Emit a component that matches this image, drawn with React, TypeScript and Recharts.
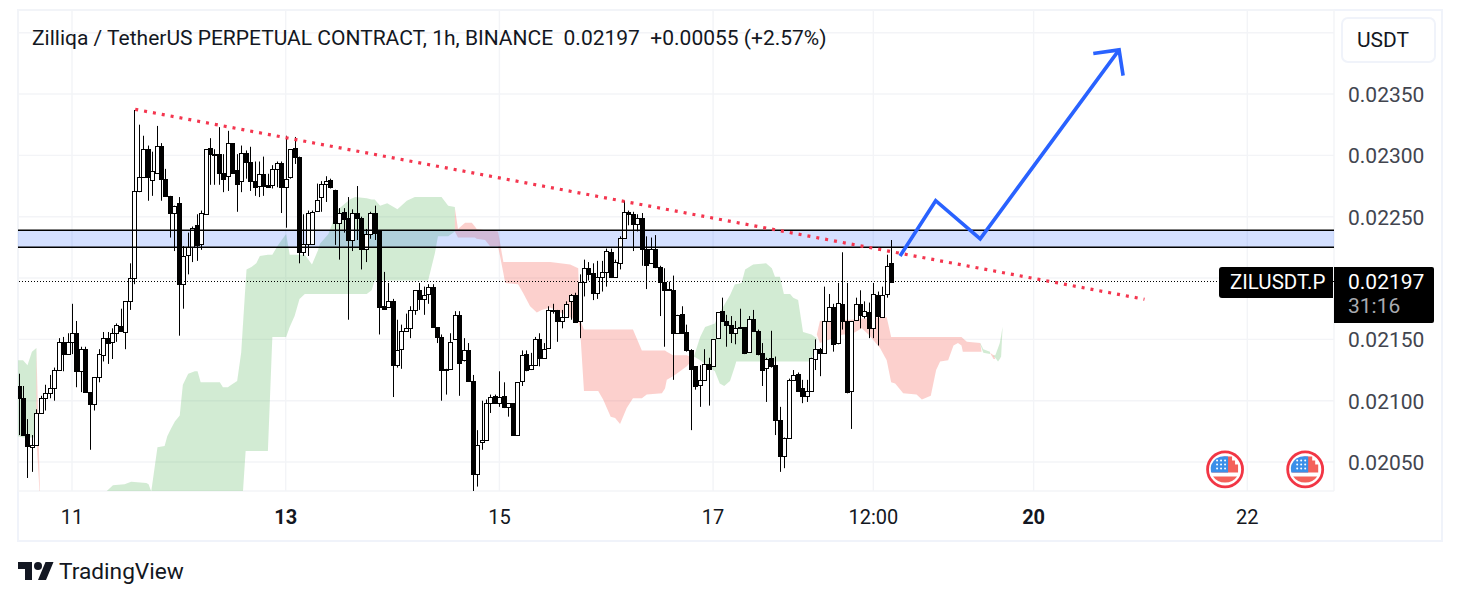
import { Area, Bar, CartesianGrid, ComposedChart, Line, ReferenceArea, ReferenceDot, ReferenceLine, XAxis, YAxis } from 'recharts';

// prices are stored in 1/100000 (the tick size of the pair), hours count from the 11th 00:00
const firstHour = -12;

const opens = [
  2112, 2102, 2073, 2062, 2064, 2090, 2102, 2106, 2110, 2125, 2148, 2138, 2148, 2155, 2124, 2142, 2107, 2097, 2119, 2137,
  2151, 2148, 2155, 2161, 2156, 2181, 2200, 2271, 2282, 2305, 2280, 2286, 2308, 2281, 2267, 2253, 2261, 2195, 2219, 2225,
  2243, 2228, 2252, 2306, 2301, 2301, 2286, 2283, 2310, 2288, 2279, 2302, 2295, 2279, 2275, 2285, 2276, 2276, 2289, 2294,
  2274, 2282, 2306, 2299, 2221, 2228, 2228, 2255, 2266, 2277, 2280, 2272, 2245, 2254, 2249, 2231, 2253, 2249, 2224, 2236,
  2253, 2239, 2177, 2176, 2181, 2129, 2142, 2157, 2159, 2174, 2190, 2183, 2187, 2193, 2160, 2152, 2126, 2126, 2150, 2170,
  2133, 2141, 2116, 2040, 2066, 2068, 2098, 2104, 2098, 2104, 2095, 2098, 2072, 2116, 2138, 2126, 2129, 2150, 2135, 2143,
  2174, 2174, 2165, 2168, 2181, 2186, 2165, 2197, 2208, 2204, 2188, 2201, 2205, 2221, 2201, 2212, 2233, 2254, 2252, 2244,
  2249, 2224, 2212, 2224, 2209, 2197, 2190, 2190, 2155, 2171, 2156, 2141, 2128, 2113, 2117, 2130, 2128, 2151, 2173, 2165,
  2162, 2155, 2160, 2160, 2140, 2167, 2157, 2139, 2127, 2135, 2129, 2084, 2055, 2070, 2117, 2122, 2110, 2104, 2108, 2134,
  2142, 2139, 2165, 2176, 2147, 2179, 2165, 2108, 2166, 2179, 2169, 2172, 2159, 2186, 2168, 2187, 2212,
];
const highs = [
  2122, 2112, 2085, 2072, 2093, 2104, 2113, 2121, 2127, 2151, 2152, 2155, 2179, 2165, 2144, 2144, 2107, 2119, 2142, 2156,
  2156, 2159, 2163, 2175, 2181, 2212, 2337, 2325, 2316, 2308, 2303, 2324, 2310, 2289, 2267, 2259, 2266, 2226, 2237, 2242,
  2252, 2255, 2305, 2314, 2305, 2323, 2301, 2320, 2310, 2301, 2308, 2304, 2307, 2295, 2295, 2299, 2285, 2292, 2295, 2295,
  2316, 2305, 2315, 2299, 2252, 2255, 2255, 2277, 2279, 2283, 2281, 2272, 2257, 2257, 2266, 2256, 2275, 2250, 2240, 2254,
  2259, 2239, 2205, 2196, 2183, 2166, 2162, 2171, 2177, 2190, 2196, 2193, 2195, 2195, 2160, 2154, 2126, 2155, 2173, 2173,
  2151, 2147, 2121, 2076, 2100, 2101, 2105, 2105, 2124, 2115, 2098, 2098, 2115, 2141, 2141, 2139, 2152, 2155, 2147, 2177,
  2179, 2174, 2174, 2181, 2187, 2188, 2203, 2215, 2213, 2212, 2214, 2214, 2224, 2224, 2215, 2234, 2263, 2255, 2254, 2252,
  2253, 2234, 2233, 2235, 2210, 2208, 2197, 2202, 2170, 2177, 2162, 2142, 2128, 2129, 2142, 2135, 2150, 2172, 2184, 2170,
  2169, 2165, 2175, 2160, 2169, 2174, 2158, 2147, 2135, 2157, 2136, 2095, 2070, 2118, 2125, 2123, 2117, 2117, 2135, 2150,
  2143, 2193, 2187, 2179, 2196, 2221, 2196, 2165, 2184, 2190, 2181, 2180, 2196, 2189, 2193, 2219, 2231,
];
const lows = [
  2072, 2072, 2037, 2042, 2064, 2090, 2092, 2102, 2100, 2125, 2124, 2138, 2138, 2111, 2107, 2107, 2060, 2092, 2115, 2132,
  2130, 2134, 2148, 2156, 2142, 2174, 2195, 2270, 2282, 2263, 2267, 2286, 2263, 2267, 2233, 2222, 2153, 2175, 2203, 2213,
  2214, 2223, 2252, 2276, 2276, 2276, 2270, 2271, 2286, 2254, 2270, 2281, 2271, 2267, 2266, 2267, 2274, 2273, 2274, 2253,
  2241, 2281, 2293, 2212, 2218, 2218, 2228, 2254, 2254, 2262, 2273, 2227, 2215, 2237, 2166, 2222, 2231, 2207, 2213, 2232,
  2231, 2154, 2174, 2176, 2103, 2127, 2126, 2156, 2151, 2170, 2174, 2170, 2179, 2160, 2147, 2100, 2105, 2126, 2150, 2104,
  2132, 2116, 2026, 2030, 2060, 2068, 2090, 2098, 2095, 2094, 2087, 2072, 2072, 2112, 2124, 2125, 2129, 2128, 2134, 2143,
  2171, 2148, 2159, 2168, 2166, 2164, 2151, 2185, 2198, 2182, 2183, 2189, 2193, 2200, 2201, 2207, 2233, 2243, 2222, 2238,
  2210, 2191, 2212, 2208, 2169, 2144, 2190, 2117, 2155, 2155, 2140, 2076, 2109, 2095, 2117, 2096, 2128, 2151, 2165, 2144,
  2147, 2146, 2160, 2138, 2140, 2156, 2137, 2112, 2099, 2127, 2072, 2042, 2045, 2070, 2117, 2108, 2098, 2099, 2108, 2125,
  2120, 2139, 2165, 2140, 2146, 2158, 2106, 2077, 2165, 2159, 2167, 2151, 2151, 2145, 2168, 2184, 2197,
];
const closes = [
  2102, 2072, 2063, 2064, 2090, 2102, 2106, 2110, 2125, 2148, 2138, 2148, 2155, 2124, 2142, 2107, 2097, 2119, 2138, 2151,
  2147, 2155, 2162, 2157, 2181, 2200, 2271, 2282, 2305, 2282, 2287, 2308, 2281, 2267, 2253, 2259, 2195, 2218, 2225, 2241,
  2227, 2253, 2305, 2301, 2301, 2286, 2281, 2310, 2286, 2277, 2302, 2295, 2279, 2274, 2285, 2275, 2274, 2289, 2294, 2274,
  2281, 2305, 2299, 2221, 2228, 2253, 2254, 2264, 2277, 2279, 2274, 2245, 2253, 2248, 2231, 2253, 2249, 2224, 2236, 2253,
  2237, 2176, 2175, 2181, 2129, 2141, 2157, 2159, 2174, 2190, 2183, 2186, 2193, 2160, 2152, 2125, 2125, 2148, 2170, 2131,
  2141, 2116, 2040, 2064, 2068, 2098, 2103, 2098, 2103, 2095, 2098, 2072, 2115, 2137, 2125, 2129, 2150, 2135, 2142, 2174,
  2173, 2165, 2168, 2179, 2186, 2164, 2197, 2208, 2203, 2188, 2201, 2205, 2222, 2201, 2213, 2233, 2254, 2252, 2244, 2249,
  2224, 2211, 2224, 2209, 2197, 2190, 2191, 2155, 2170, 2155, 2141, 2126, 2112, 2117, 2130, 2126, 2150, 2172, 2165, 2162,
  2155, 2159, 2160, 2139, 2167, 2157, 2138, 2125, 2134, 2128, 2084, 2055, 2070, 2117, 2121, 2108, 2104, 2108, 2135, 2142,
  2139, 2165, 2176, 2146, 2180, 2165, 2107, 2165, 2179, 2170, 2173, 2159, 2187, 2169, 2186, 2210, 2197,
];

// cloud patches as [hour, upper edge, lower edge]
const greenLeft = [[-12.1, 2133, 2071], [-11, 2133, 2070], [-10, 2129, 2070], [-9, 2140, 2070], [-8, 2143, 2070]];
const redSliver = [[-8, 2143, 2070], [-7.2, 2026, 2020]];
const greenBig = [
  [7.7, 2026, 2020], [9.2, 2031, 2020], [11.8, 2032, 2020], [13.3, 2034, 2020], [16.7, 2033, 2020], [17.2, 2032, 2020],
  [17.8, 2026, 2020], [19.2, 2062, 2020], [20.8, 2063, 2020], [21.4, 2071, 2020], [22.2, 2077, 2020], [23.1, 2083, 2020],
  [24.2, 2088, 2020], [24.9, 2113, 2020], [26.1, 2122, 2020], [27.6, 2124, 2020], [28.2, 2124, 2020], [28.9, 2115, 2020],
  [33.2, 2115, 2020], [33.9, 2111, 2020], [35, 2111, 2020], [35.8, 2113, 2020], [37.1, 2116, 2020], [38, 2139, 2020],
  [38.4, 2162, 2026], [39, 2196, 2059], [39.2, 2207, 2059], [40.3, 2209, 2059], [41.4, 2212, 2059], [42.2, 2218, 2059],
  [44, 2219, 2059], [45, 2219, 2152], [46.3, 2227, 2152], [48.1, 2236, 2152], [48.9, 2219, 2160], [50, 2219, 2169],
  [51.1, 2219, 2183], [52.3, 2219, 2187], [53.9, 2211, 2187], [55.3, 2223, 2187], [55.7, 2228, 2187], [57.6, 2236, 2187],
  [58.7, 2247, 2187], [59.5, 2255, 2187], [62.4, 2264, 2187], [63.6, 2266, 2187], [66.2, 2265, 2187], [67.3, 2264, 2190],
  [68, 2264, 2198], [69.2, 2259, 2198], [70.8, 2261, 2198], [73.1, 2256, 2198], [75.2, 2263, 2198], [77, 2266, 2198],
  [80, 2266, 2198], [81.5, 2266, 2220], [82.2, 2266, 2234], [83, 2266, 2234], [84.5, 2259, 2234], [86, 2258, 2238],
];
const redMiddle = [
  [86, 2257, 2238], [86.7, 2240, 2233], [88.3, 2245, 2233], [89.8, 2245, 2233], [90.5, 2242, 2233], [90.9, 2240, 2232],
  [92.8, 2239, 2231], [93.9, 2239, 2226], [95.7, 2238, 2226], [96.9, 2213, 2204], [97.3, 2213, 2196], [100.2, 2213, 2195],
  [101.3, 2213, 2188], [102.9, 2213, 2177], [104.4, 2213, 2172], [105.5, 2213, 2174], [107.4, 2213, 2176], [111.9, 2211, 2168],
  [113.7, 2208, 2165], [114.1, 2166, 2160], [115, 2158, 2108], [118.2, 2158, 2108], [119.3, 2158, 2101], [121, 2158, 2087],
  [122, 2158, 2086], [123.1, 2158, 2081], [124.6, 2158, 2094], [126, 2158, 2102], [128, 2141, 2102], [129.1, 2141, 2105],
  [132.5, 2141, 2106], [133.2, 2141, 2110], [133.6, 2140, 2117], [135, 2137, 2120], [135.8, 2137, 2122], [138.1, 2137, 2128],
  [139.3, 2135, 2133], [139.7, 2135, 2135],
];
const greenRight = [
  [139.7, 2136, 2136], [141.1, 2152, 2133], [142.2, 2160, 2130], [144.4, 2163, 2124], [145.5, 2172, 2114], [146.5, 2178, 2112],
  [147.8, 2186, 2116], [148.9, 2195, 2128], [149.2, 2195, 2132], [150.4, 2196, 2132], [151.2, 2207, 2132], [153, 2211, 2132],
  [155.9, 2212, 2132], [157.2, 2208, 2132], [157.9, 2201, 2132], [159, 2201, 2132], [159.9, 2187, 2132], [161.3, 2187, 2132],
  [162, 2184, 2132], [163.1, 2182, 2132], [164.2, 2156, 2132], [166.1, 2154, 2132], [167.3, 2151, 2151],
];
const redRight = [
  [167.3, 2154, 2154], [168, 2165, 2147], [173.2, 2166, 2154], [175, 2166, 2154], [177.4, 2167, 2159], [178.9, 2167, 2154],
  [181.5, 2168, 2143], [183, 2168, 2133], [184, 2152, 2115], [184.9, 2152, 2114], [186.7, 2152, 2106], [189.7, 2152, 2105],
  [190.9, 2152, 2101], [192.9, 2152, 2104], [194.1, 2152, 2125], [195, 2152, 2132], [196.8, 2152, 2133], [198, 2152, 2145],
  [199, 2152, 2147], [199.8, 2152, 2145], [200.1, 2151, 2140], [201, 2148, 2140], [204, 2147, 2140], [204.3, 2140, 2140],
];
const greenTail = [[204, 2147, 2146], [204.7, 2142, 2139], [206.2, 2140, 2138]];
const redTail = [[206.2, 2139, 2139], [207, 2137, 2134], [207.4, 2134, 2134]];
const greenEnd = [[207, 2137, 2136], [207.4, 2137, 2135], [208, 2143, 2132], [208.4, 2147, 2134], [208.7, 2153, 2136], [209, 2160, 2158]];

const trendLine = [{ h: 14.2, price: 2337.5 }, { h: 240.9, price: 2182.7 }];
const arrowPath = [{ h: 186, price: 2218 }, { h: 194, price: 2263 }, { h: 204, price: 2232 }, { h: 235.2, price: 2386 }];
const arrowHead = [{ h: 229.4, price: 2383 }, { h: 235.2, price: 2386 }, { h: 236.1, price: 2365 }];
const eventHours = [259, 277];

const priceTicks = [2050, 2100, 2150, 2200, 2250, 2300, 2350, 2400];
const hiddenPriceLabels = [2200, 2400]; // covered by the price tag and the USDT button
const hourTicks = [0, 48, 96, 144, 180, 216, 264];
const hourLabels = ['11', '13', '15', '17', '12:00', '20', '22'];
const boldLabels = ['13', '20'];

const bandLow = 2225;
const bandHigh = 2239;
const lastPrice = 2197;

const candles = opens.map((open, i) => ({
  h: firstHour + i,
  open,
  high: highs[i],
  low: lows[i],
  close: closes[i],
}));

const toCloud = (rows: number[][]) => rows.map(([h, upper, lower]) => ({ h, range: [lower, upper] }));

const FONT = 'Roboto, sans-serif';
const GREEN = '#4caf50';
const RED = '#f44336';

function Candle(props: any) {
  const { x, y, width, height, payload } = props;
  const { open, high, low, close } = payload;
  const perUnit = high > low ? Math.abs(height) / (high - low) : 0;
  const top = Math.min(y, y + height);
  const at = (v: number) => top + (high - v) * perUnit;
  const cx = Math.round(x + width / 2);
  const up = close >= open;
  const bodyTop = Math.round(at(Math.max(open, close))) + 0.5;
  const bodyH = Math.max(Math.round(at(Math.min(open, close))) + 0.5 - bodyTop, 1);
  return (
    <g>
      <line x1={cx + 0.5} x2={cx + 0.5} y1={at(high)} y2={at(low)} stroke="#000" strokeWidth={1} />
      <rect x={cx - 1.5} y={bodyTop} width={4} height={bodyH} fill={up ? '#fff' : '#000'} stroke="#000" strokeWidth={1} />
    </g>
  );
}

function FlagIcon(props: any) {
  const { cx, cy } = props;
  return (
    <g>
      <circle cx={cx} cy={cy} r={17.5} fill="#fff" stroke="#f23645" strokeWidth={2.8} />
      <path d={`M${cx - 13} ${cy - 2}A13 13 0 0 1 ${cx} ${cy - 13}H${cx + 7}V${cy - 9}H${cx + 10}V${cy - 5}H${cx + 13}V${cy + 3}H${cx - 13}Z`} fill="#f4615a" />
      <path d={`M${cx - 14} ${cy + 3}A14 14 0 0 1 ${cx - 9} ${cy - 11}Q${cx - 4} ${cy - 14} ${cx + 3} ${cy - 13}V${cy + 3}Z`} fill="#3b8fe8" />
      {[-8, -4, 0].map((dx) => [-9, -5, -1].map((dy) => <circle key={`${dx}${dy}`} cx={cx + dx} cy={cy + dy} r={1} fill="#fff" />))}
      <path d={`M${cx - 12} ${cy + 7}H${cx + 12}Q${cx + 8} ${cy + 13} ${cx} ${cy + 13}Q${cx - 8} ${cy + 13} ${cx - 12} ${cy + 7}Z`} fill="#f4615a" />
    </g>
  );
}

function PriceTick({ x, y, payload }: any) {
  if (hiddenPriceLabels.includes(payload.value)) return null;
  return (
    <text x={x + 6} y={y + 8} fontFamily={FONT} fontSize={21} fill="#42454f">
      {(payload.value / 100000).toFixed(5)}
    </text>
  );
}

function HourTick({ x, y, payload }: any) {
  const label = hourLabels[hourTicks.indexOf(payload.value)];
  return (
    <text x={x} y={y + 25} textAnchor="middle" fontFamily={FONT} fontSize={20} fontWeight={boldLabels.includes(label) ? 700 : 400} fill="#131722">
      {label}
    </text>
  );
}

const box = (style: any) => ({ position: 'absolute', boxSizing: 'border-box', ...style });

export default function App() {
  return (
    <div style={box({ left: 0, top: 0, width: 1460, height: 602, background: '#fff', overflow: 'hidden', fontFamily: FONT })}>
      <div style={box({ left: 17, top: 9, width: 1426, height: 533, border: '2px solid #f0f3fa' })} />
      <div style={{ position: 'absolute', left: 0, top: 0 }}>
        <ComposedChart width={1460} height={602} data={candles} margin={{ top: 10, right: 18, bottom: 61, left: 18 }}>
          <CartesianGrid stroke="#f3f4f7" strokeWidth={1.4} />
          <XAxis
            dataKey="h"
            type="number"
            domain={[-12.13, 283.47]}
            ticks={hourTicks}
            interval={0}
            allowDataOverflow
            axisLine={false}
            tickLine={false}
            height={50}
            tick={<HourTick />}
          />
          <YAxis
            orientation="right"
            type="number"
            domain={[2026.4, 2418.5]}
            ticks={priceTicks}
            interval={0}
            allowDataOverflow
            axisLine={false}
            tickLine={false}
            width={108}
            tick={<PriceTick />}
          />
          {[greenLeft, greenBig, greenRight, greenTail, greenEnd].map((rows, i) => (
            <Area key={`g${i}`} data={toCloud(rows)} dataKey="range" type="linear" stroke="none" fill={GREEN} fillOpacity={0.25} dot={false} activeDot={false} isAnimationActive={false} />
          ))}
          {[redSliver, redMiddle, redRight, redTail].map((rows, i) => (
            <Area key={`r${i}`} data={toCloud(rows)} dataKey="range" type="linear" stroke="none" fill={RED} fillOpacity={0.25} dot={false} activeDot={false} isAnimationActive={false} />
          ))}
          <ReferenceArea y1={bandLow} y2={bandHigh} fill="#2962ff" fillOpacity={0.2} stroke="none" />
          <ReferenceLine y={bandHigh} stroke="#000" strokeWidth={1.5} />
          <ReferenceLine y={bandLow} stroke="#000" strokeWidth={1.5} />
          <ReferenceLine y={lastPrice} stroke="#000" strokeWidth={1} strokeDasharray="1 2" shapeRendering="crispEdges" />
          <Bar dataKey={(d: any) => [d.low, d.high]} barSize={4} shape={<Candle />} isAnimationActive={false} />
          <Line data={trendLine} dataKey="price" type="linear" stroke="#f4364f" strokeWidth={3.2} strokeDasharray="3 6" dot={false} activeDot={false} isAnimationActive={false} />
          <Line data={arrowPath} dataKey="price" type="linear" stroke="#2962ff" strokeWidth={3.6} dot={false} activeDot={false} isAnimationActive={false} />
          <Line data={arrowHead} dataKey="price" type="linear" stroke="#2962ff" strokeWidth={3.6} dot={false} activeDot={false} isAnimationActive={false} />
          {eventHours.map((h) => (
            <ReferenceDot key={h} x={h} y={2044} shape={<FlagIcon />} />
          ))}
        </ComposedChart>
      </div>
      <div style={box({ left: 32, top: 26, fontSize: 21, lineHeight: '24px', color: '#131722', whiteSpace: 'pre' })}>
        {'Zilliqa / TetherUS PERPETUAL CONTRACT, 1h, BINANCE  0.02197  +0.00055 (+2.57%)'}
      </div>
      <div style={box({ left: 1341, top: 17, width: 95, height: 46, border: '2px solid #f0f3fa', borderRadius: 7, background: '#fff', color: '#131722', fontSize: 21, lineHeight: '42px', paddingLeft: 14 })}>
        USDT
      </div>
      <div style={box({ left: 1219, top: 267, width: 114, height: 31, background: '#000', borderRadius: '3px 0 0 3px', color: '#fff', fontSize: 20.5, lineHeight: '31px', paddingLeft: 11 })}>
        ZILUSDT.P
      </div>
      <div style={box({ left: 1334, top: 267, width: 100, height: 56, background: '#000', borderRadius: '0 2px 2px 0', paddingLeft: 14 })}>
        <div style={{ color: '#fff', fontSize: 21, lineHeight: '24px', marginTop: 3 }}>0.02197</div>
        <div style={{ color: '#a9abb0', fontSize: 21, lineHeight: '24px' }}>31:16</div>
      </div>
      <svg style={{ position: 'absolute', left: 17.5, top: 558 }} width={36} height={26} viewBox="0 0 36 26">
        <path d="M14 22H7V11H0V4h14v18zM28 22h-8l7.5-18h8L28 22z" fill="#131722" />
        <circle cx={20} cy={8} r={4} fill="#131722" />
      </svg>
      <div style={box({ left: 59, top: 558, fontSize: 22.7, lineHeight: '28px', color: '#131722' })}>TradingView</div>
    </div>
  );
}
